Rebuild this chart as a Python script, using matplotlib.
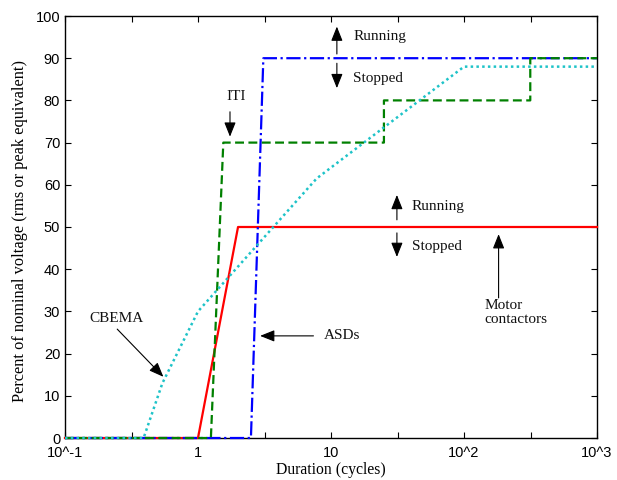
import matplotlib
matplotlib.use('Agg')
import matplotlib.pyplot as plt
import numpy as np

# Curves (duration in cycles, % of nominal voltage)
asd_x = [0.1, 2.5, 3.1, 1000]
asd_y = [0, 0, 90, 90]

iti_x = [0.1, 1.25, 1.55, 25, 25, 315, 315, 1000]
iti_y = [0, 0, 70, 70, 80, 80, 90, 90]

motor_x = [0.1, 1, 2, 1000]
motor_y = [0, 0, 50, 50]

cbema_x = [0.1, 0.39, 0.54, 1, 7.8, 100, 1000]
cbema_y = [0, 0, 13, 30, 61.5, 88, 88]

xticks = [0.1, 1, 10, 100, 1000]
xtick_labels = ['10^-1', '1', '10', '10^2', '10^3']
yticks = list(range(0, 101, 10))

serif = ['Liberation Serif', 'DejaVu Serif']
sans = ['Liberation Sans', 'DejaVu Sans']

fig = plt.figure(figsize=(6.17, 4.8), dpi=100)
ax = fig.add_axes([65/617, 42/480, 532/617, 422/480])

ax.plot(motor_x, motor_y, color='#ff0000', lw=1.6, clip_on=False, zorder=3)
ax.plot(asd_x, asd_y, color='#0000ff', lw=1.6, ls='-.', clip_on=False, zorder=3)
ax.plot(iti_x, iti_y, color='#008000', lw=1.6, ls=(0, (4, 2)), clip_on=False, zorder=3)
ax.plot(cbema_x, cbema_y, color='#1ec3c8', lw=1.8, ls=(0, (1, 1.3)), clip_on=False, zorder=3)

ax.set_xscale('log')
ax.set_xlim(0.1, 1000)
ax.set_ylim(0, 100)
ax.set_xticks(xticks)
ax.set_xticklabels(xtick_labels, fontfamily=sans, fontsize=10.5)
ax.set_xticks(10 ** np.arange(-0.5, 3, 1.0), minor=True)
ax.set_yticks(yticks)
ax.set_yticklabels([str(v) for v in yticks], fontfamily=sans, fontsize=10.5)
ax.tick_params(which='both', direction='in', top=True, right=True, length=4, width=0.8)
ax.tick_params(axis='x', pad=5.5)
ax.tick_params(which='minor', labelbottom=False)
for s in ax.spines.values():
    s.set_linewidth(1.0)

ax.set_xlabel('Duration (cycles)', fontfamily=serif, fontsize=11.3, labelpad=2)
ax.set_ylabel('Percent of nominal voltage (rms or peak equivalent)',
              fontfamily=serif, fontsize=11.8)
ax.yaxis.set_label_coords(-37/532, 0.49)

def arrow(tip, tail):
    ax.annotate('', xy=tip, xytext=tail,
                arrowprops=dict(arrowstyle='-|>,head_length=0.55,head_width=0.22',
                                color='k', lw=0.8, mutation_scale=16,
                                shrinkA=0, shrinkB=0))

def label(x, y, t, ha='left', va='center'):
    ax.text(x, y, t, ha=ha, va=va, fontfamily=serif, fontsize=11, color='#111')

# ITI
label(1.93, 81.0, 'ITI', ha='center')
arrow((1.74, 71.4), (1.74, 77.3))

# Running / Stopped (upper)
arrow((11.07, 97.5), (11.07, 91.0))
arrow((11.07, 82.9), (11.07, 88.8))
label(14.7, 95.1, 'Running')
label(14.6, 85.2, 'Stopped')

# Running / Stopped (lower)
arrow((31.3, 57.6), (31.3, 51.7))
arrow((31.3, 42.9), (31.3, 48.6))
label(40.6, 54.8, 'Running')
label(40.6, 45.3, 'Stopped')

# Motor contactors
arrow((182, 48.3), (182, 33.2))
ax.text(142, 33.0, 'Motor\ncontactors', ha='left', va='top',
        fontfamily=serif, fontsize=11, color='#111', linespacing=1.1)

# ASDs
arrow((2.93, 24.2), (7.38, 24.2))
label(8.78, 24.2, 'ASDs')

# CBEMA
label(0.246, 28.4, 'CBEMA', ha='center')
arrow((0.549, 14.5), (0.247, 25.8))

fig.savefig('out.png', dpi=100, facecolor='white')
